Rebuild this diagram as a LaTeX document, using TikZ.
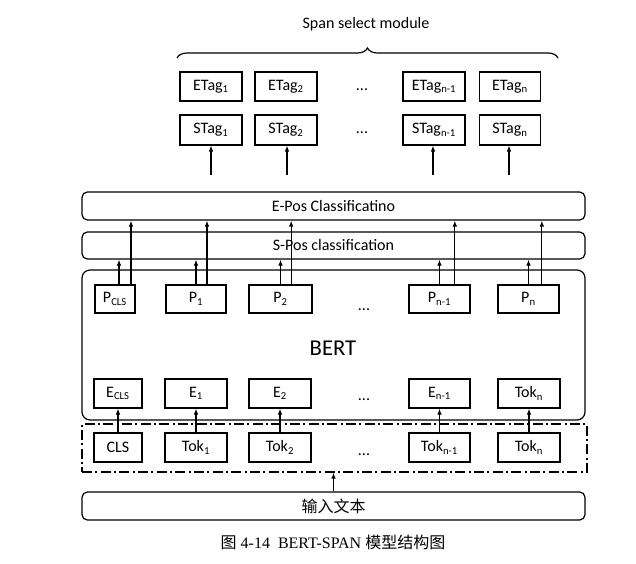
\documentclass[tikz,border=0pt]{standalone}
\usepackage{fontspec}
\setmainfont{Carlito}
\newfontfamily\cjk{Noto Sans CJK SC}
\newfontfamily\capfont{Liberation Serif}
\usetikzlibrary{arrows.meta,decorations.pathreplacing}

\tikzset{every picture/.style={line width=0.9pt}}
\tikzset{
	lbl/.style={font=\fontsize{12}{14}\selectfont},
	box/.style={draw, lbl, inner sep=0pt, minimum height=21.75pt},
	layer/.style={draw, lbl, inner sep=0pt, rounded corners=4pt, minimum width=377.25pt, minimum height=21pt},
	arr/.style={-{Latex[length=4.5pt,width=3.5pt]}},
	dots/.style={lbl, inner sep=0pt}
}

\begin{document}
\begin{tikzpicture}[x=0.75pt,y=0.75pt,yscale=-1,xscale=1]
	\useasboundingbox (0,0) rectangle (636,564);

	% Text Node
	\node[lbl] (title) at (366,24) {Span select module};
	%Brace
	\draw[decorate, decoration={brace, amplitude=7.5pt}] (177,58) -- (558,58);

	%Shape: Rectangle  ETag row
	\node[box, minimum width=46.5pt] (etag1) at (211,86.5) {ETag\textsubscript{1}};
	\node[box, minimum width=46.5pt] (etag2) at (286,86.5) {ETag\textsubscript{2}};
	\node[dots] (edots) at (362,90) {...};
	\node[box, minimum width=46.5pt] (etagn1) at (434,86.5) {ETag\textsubscript{n-1}};
	\node[box, minimum width=46pt] (etagn) at (510,86.5) {ETag\textsubscript{n}};
	%Shape: Rectangle  STag row
	\node[box, minimum width=46.5pt, minimum height=22.5pt] (stag1) at (211,130) {STag\textsubscript{1}};
	\node[box, minimum width=46.5pt, minimum height=22.5pt] (stag2) at (286,130) {STag\textsubscript{2}};
	\node[dots] (sdots) at (362,133) {...};
	\node[box, minimum width=46.5pt, minimum height=22.5pt] (stagn1) at (434,130) {STag\textsubscript{n-1}};
	\node[box, minimum width=46pt, minimum height=22.5pt] (stagn) at (510,130) {STag\textsubscript{n}};

	%Straight Lines  into STag
	\coordinate (in1) at (211,175);
	\coordinate (in2) at (287,175);
	\coordinate (in3) at (433,175);
	\coordinate (in4) at (509,175);
	\draw[arr] (in1) -- (in1 |- stag1.south);
	\draw[arr] (in2) -- (in2 |- stag2.south);
	\draw[arr] (in3) -- (in3 |- stagn1.south);
	\draw[arr] (in4) -- (in4 |- stagn.south);

	%Shape: Rounded Rect  classification layers
	\node[layer] (epos) at (333.5,206) {E-Pos Classificatino};
	\node[layer, minimum height=20.25pt] (spos) at (333.5,245.5) {S-Pos classification};

	%Shape: Rounded Rect  BERT
	\node[draw, rounded corners=6pt, minimum width=377.25pt, minimum height=112.5pt] (bert) at (333.5,345) {};
	% Text Node
	\node[font=\fontsize{17}{20}\selectfont] (bertlbl) at (333,348) {BERT};

	%Shape: Rectangle  P row
	\node[box, minimum width=30pt, minimum height=21pt] (pcls) at (115,299) {P\textsubscript{CLS}};
	\node[box, minimum width=45pt, minimum height=21pt] (p1) at (196,299) {P\textsubscript{1}};
	\node[box, minimum width=47.25pt, minimum height=21pt] (p2) at (280.5,299) {P\textsubscript{2}};
	\node[dots] (pdots) at (364,310) {...};
	\node[box, minimum width=45.75pt, minimum height=21pt] (pn1) at (439.5,299) {P\textsubscript{n-1}};
	\node[box, minimum width=45.75pt, minimum height=21pt] (pn) at (528.5,299) {P\textsubscript{n}};

	%Straight Lines  P to S-Pos / E-Pos
	\draw[arr] ([xshift=3pt]pcls.north) -- ([xshift=3pt]pcls.north |- spos.south);
	\draw[arr] ([xshift=12pt]pcls.north) -- ([xshift=12pt]pcls.north |- epos.south);
	\draw[arr] (p1.north) -- (p1.north |- spos.south);
	\draw[arr] ([xshift=8.25pt]p1.north) -- ([xshift=8.25pt]p1.north |- epos.south);
	\draw[arr] (p2.north) -- (p2.north |- spos.south);
	\draw[arr] ([xshift=8pt]p2.north) -- ([xshift=8pt]p2.north |- epos.south);
	\draw[arr] (pn1.north) -- (pn1.north |- spos.south);
	\draw[arr] ([xshift=11.5pt]pn1.north) -- ([xshift=11.5pt]pn1.north |- epos.south);
	\draw[arr] (pn.north) -- (pn.north |- spos.south);
	\draw[arr] ([xshift=10pt]pn.north) -- ([xshift=10pt]pn.north |- epos.south);

	%Shape: Rectangle  E row
	\node[box, minimum width=36pt] (ecls) at (118,393.5) {E\textsubscript{CLS}};
	\node[box, minimum width=46.5pt] (e1) at (196,393.5) {E\textsubscript{1}};
	\node[box, minimum width=46.5pt] (e2) at (280,393.5) {E\textsubscript{2}};
	\node[dots] (edots2) at (364,400) {...};
	\node[box, minimum width=45.75pt] (en1) at (439.5,393.5) {E\textsubscript{n-1}};
	\node[box, minimum width=46.5pt] (etokn) at (529,393.5) {Tok\textsubscript{n}};

	%Shape: Rectangle  token group
	\node[draw, dash pattern={on 7.5pt off 2.5pt on 1.5pt off 2.5pt}, minimum width=378.75pt, minimum height=36pt] (tokgrp) at (334.5,448) {};
	\node[box, minimum width=36pt] (tcls) at (118,447.5) {CLS};
	\node[box, minimum width=46.5pt] (t1) at (196,447.5) {Tok\textsubscript{1}};
	\node[box, minimum width=46.5pt] (t2) at (280,447.5) {Tok\textsubscript{2}};
	\node[dots] (tdots) at (364,455) {...};
	\node[box, minimum width=45.75pt] (tn1) at (439.5,447.5) {Tok\textsubscript{n-1}};
	\node[box, minimum width=46.5pt] (tn) at (529,447.5) {Tok\textsubscript{n}};

	%Straight Lines  Tok to E
	\draw[arr] (tcls) -- (ecls);
	\draw[arr] (t1) -- (e1);
	\draw[arr] (t2) -- (e2);
	\draw[arr] (tn1) -- (en1);
	\draw[arr] (tn) -- (etokn);

	%Shape: Rounded Rect  input
	\node[layer] (input) at (333.5,506) {\cjk 输入文本};
	\draw[arr] (input.north) -- (input.north |- tokgrp.south);

	% Text Node
	\node[font=\fontsize{12}{14}\selectfont] (caption) at (333,542) {{\cjk 图}\capfont\ 4-14\ \ BERT-SPAN {\cjk 模型结构图}};

\end{tikzpicture}
\end{document}
